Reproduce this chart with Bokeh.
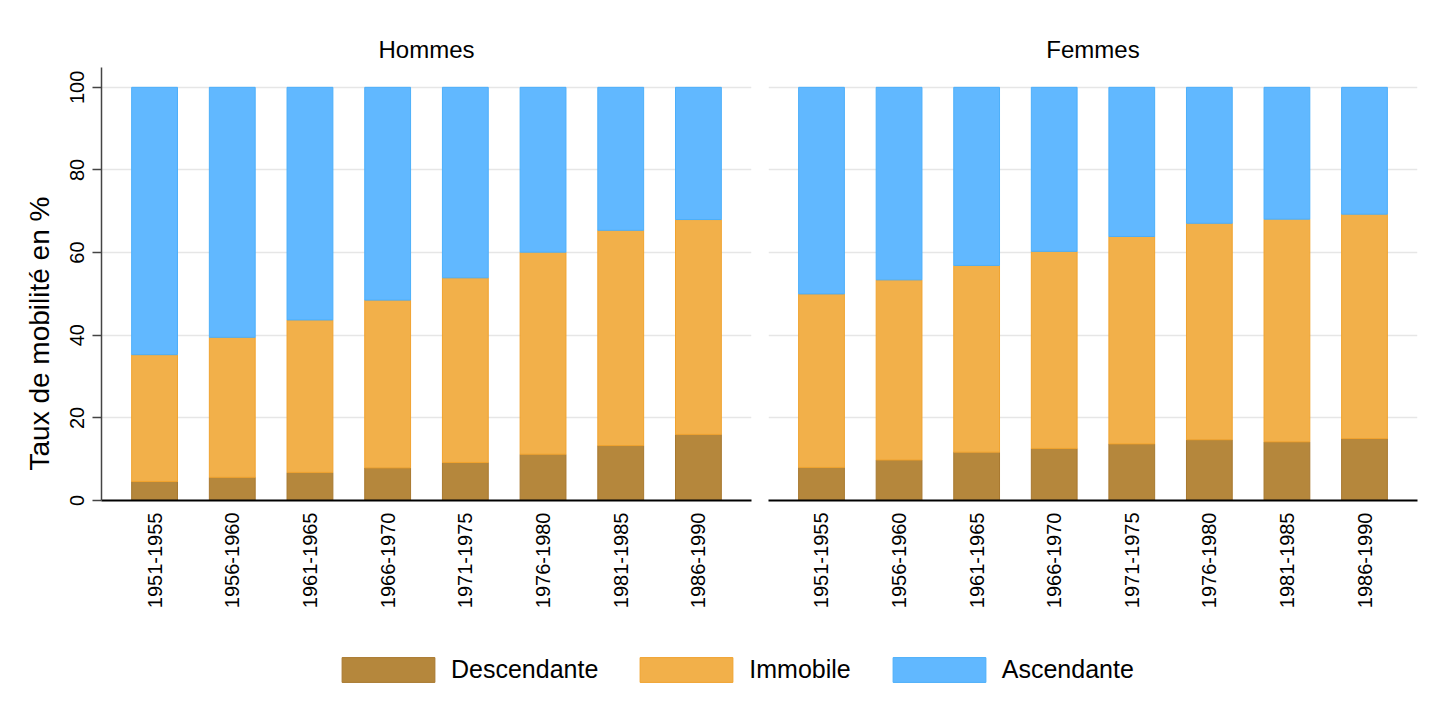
import math
from bokeh.plotting import figure
from bokeh.models import (FactorRange, Range1d, FixedTicker, Legend, LegendItem,
                          Title, ColumnDataSource)
from bokeh.layouts import column, row
from bokeh.embed import file_html
from bokeh.resources import INLINE

# ---- data ----
periods = ["1951-1955", "1956-1960", "1961-1965", "1966-1970",
           "1971-1975", "1976-1980", "1981-1985", "1986-1990"]

hommes_descendante = [4.6, 5.6, 6.8, 7.9, 9.2, 11.2, 13.3, 16.0]
hommes_immobile = [30.7, 33.9, 36.9, 40.6, 44.7, 48.9, 52.1, 52.0]
hommes_ascendante = [64.7, 60.5, 56.3, 51.5, 46.1, 39.9, 34.6, 32.0]

femmes_descendante = [8.0, 9.8, 11.7, 12.6, 13.7, 14.7, 14.2, 15.0]
femmes_immobile = [42.0, 43.6, 45.2, 47.7, 50.2, 52.4, 53.9, 54.3]
femmes_ascendante = [50.0, 46.6, 43.1, 39.7, 36.1, 32.9, 31.9, 30.7]

series = ["Descendante", "Immobile", "Ascendante"]
y_ticks = [0, 20, 40, 60, 80, 100]
y_tick_labels = ["0", "20", "40", "60", "80", "100"]
y_title = "Taux de mobilité en %"

fill_colors = ["#B5873C", "#F2B04A", "#61B8FF"]
line_colors = ["#A8782E", "#F0A32F", "#4CAFFA"]
FONT = "Liberation Sans"

Y_MAX = 104.8
FRAME_H = 433
PX_PER_UNIT = FRAME_H / Y_MAX
LABEL_PX = 20
DIGIT_EM = 0.556  # digit advance of Liberation Sans


def panel(title, desc, imm, asc, left):
    src = ColumnDataSource(dict(period=periods, Descendante=desc,
                                Immobile=imm, Ascendante=asc))
    p = figure(x_range=FactorRange(factors=periods, range_padding=0.0458),
               y_range=Range1d(0, Y_MAX),
               frame_width=650 if left else 649, frame_height=FRAME_H,
               min_border_left=101 if left else 9,
               min_border_right=8 if left else 20,
               min_border_top=67, min_border_bottom=130,
               output_backend="svg", toolbar_location=None, title=title)
    p.vbar_stack(series, x="period", width=0.59, source=src,
                 fill_color=fill_colors, line_color=line_colors, line_width=1)
    p.outline_line_color = None
    p.background_fill_color = "white"
    p.border_fill_color = "white"

    p.title.align = "center"
    p.title.text_font = FONT
    p.title.text_font_size = "24px"
    p.title.text_font_style = "normal"
    p.title.text_color = "black"

    p.ygrid.ticker = FixedTicker(ticks=y_ticks)
    p.ygrid.grid_line_color = "#e6e6e6"
    p.ygrid.grid_line_width = 1.5
    p.xgrid.grid_line_color = None

    p.xaxis.axis_line_color = "black"
    p.xaxis.axis_line_width = 2
    p.xaxis.major_tick_line_color = None
    p.xaxis.major_tick_out = 0
    p.xaxis.major_tick_in = 0
    p.xaxis.minor_tick_line_color = None
    p.xaxis.major_label_orientation = math.pi / 2
    p.xaxis.major_label_standoff = 12
    p.xaxis.major_label_text_font = FONT
    p.xaxis.major_label_text_font_size = f"{LABEL_PX}px"
    p.xaxis.major_label_text_color = "black"

    if left:
        # Rotated labels are end-anchored at their tick: place the label
        # anchors half a label length above each tick so that the digits
        # are centred; the visible tick marks are drawn at the true values.
        anchors = [round(t + len(s) * DIGIT_EM * LABEL_PX / 2 / PX_PER_UNIT, 2)
                   for t, s in zip(y_ticks, y_tick_labels)]
        p.yaxis.ticker = FixedTicker(ticks=anchors, minor_ticks=y_ticks)
        p.yaxis.major_label_overrides = dict(zip(anchors, y_tick_labels))
        p.yaxis.axis_line_color = "#444444"
        p.yaxis.axis_line_width = 1.5
        p.yaxis.major_tick_line_color = None
        p.yaxis.major_tick_out = 9
        p.yaxis.major_tick_in = 0
        p.yaxis.minor_tick_line_color = "#444444"
        p.yaxis.minor_tick_line_width = 1.5
        p.yaxis.minor_tick_out = 9
        p.yaxis.minor_tick_in = 0
        p.yaxis.major_label_orientation = math.pi / 2
        p.yaxis.major_label_standoff = 15
        p.yaxis.major_label_text_font = FONT
        p.yaxis.major_label_text_font_size = f"{LABEL_PX}px"
        p.yaxis.major_label_text_color = "black"
        ylab = Title(text=y_title, align="left", offset=30, standoff=12,
                     text_font=FONT, text_font_size="28px",
                     text_font_style="normal", text_color="black")
        p.add_layout(ylab, "left")
    else:
        p.yaxis.visible = False
    return p


p1 = panel("Hommes", hommes_descendante, hommes_immobile, hommes_ascendante, True)
p2 = panel("Femmes", femmes_descendante, femmes_immobile, femmes_ascendante, False)

# ---- legend figure ----
lf = figure(width=1437, height=80, output_backend="svg", toolbar_location=None,
            x_range=Range1d(0, 1), y_range=Range1d(0, 1), min_border=0,
            x_axis_location=None, y_axis_location=None)
lf.grid.visible = False
lf.outline_line_color = None
dummy = ColumnDataSource(dict(x=[-10], Descendante=[0], Immobile=[0], Ascendante=[0]))
rs = lf.vbar_stack(series, x="x", width=0.1, source=dummy,
                   fill_color=fill_colors, line_color=line_colors, line_width=1)
legend = Legend(items=[LegendItem(label=s, renderers=[r]) for s, r in zip(series, rs)],
                orientation="horizontal", location=(330, 25),
                glyph_width=116, glyph_height=31, label_standoff=5, spacing=30,
                padding=0, margin=0, border_line_color=None,
                background_fill_alpha=0, label_text_font=FONT,
                label_text_font_size="25px", label_text_color="black")
lf.add_layout(legend)

layout = column(row(p1, p2), lf)
open("out.html", "w").write(file_html(layout, INLINE))
